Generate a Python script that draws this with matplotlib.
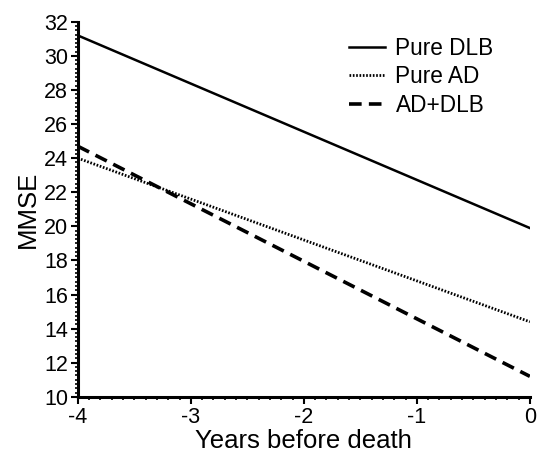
import matplotlib

matplotlib.use("Agg")
import matplotlib.pyplot as plt
import numpy as np
from matplotlib.ticker import MultipleLocator

# MMSE trajectories before death (linear fits)
years = [-4, 0]
pure_dlb = [31.2, 19.9]
pure_ad = [24.0, 14.4]
ad_dlb = [24.7, 11.2]

plt.rcParams["font.family"] = ["Liberation Sans", "DejaVu Sans"]
plt.rcParams["axes.unicode_minus"] = False

fig = plt.figure(figsize=(5.44, 4.54), dpi=100)
ax = fig.add_axes([0.143, 0.126, 0.831, 0.826])

ax.plot(years, pure_dlb, color="black", lw=1.8, ls="-", label="Pure DLB")
ax.plot(years, pure_ad, color="black", lw=2.0, ls=(0, (0.6, 0.6)), label="Pure AD")
ax.plot(years, ad_dlb, color="black", lw=2.6, ls=(0, (3.5, 2.0)), label="AD+DLB")

ax.set_xlim(-4, 0)
ax.set_ylim(10, 32)
ax.xaxis.set_major_locator(MultipleLocator(1))
ax.xaxis.set_minor_locator(MultipleLocator(0.1))
ax.yaxis.set_major_locator(MultipleLocator(2))
ax.yaxis.set_minor_locator(MultipleLocator(0.25))
ax.tick_params(which="major", length=5, width=1.5, labelsize=15.5, pad=2)
ax.tick_params(which="minor", length=2.5, width=1.2)

for side in ("top", "right"):
    ax.spines[side].set_visible(False)
for side in ("left", "bottom"):
    ax.spines[side].set_linewidth(2.2)

ax.set_xlabel("Years before death", fontsize=18.5, labelpad=1)
ax.set_ylabel("MMSE", fontsize=18.5, labelpad=3)

ax.legend(loc="upper left", frameon=False, fontsize=16.3, handlelength=1.6,
          bbox_to_anchor=(0.555, 1.015), labelspacing=0.25, handletextpad=0.45)

fig.savefig("out.png", dpi=100)
